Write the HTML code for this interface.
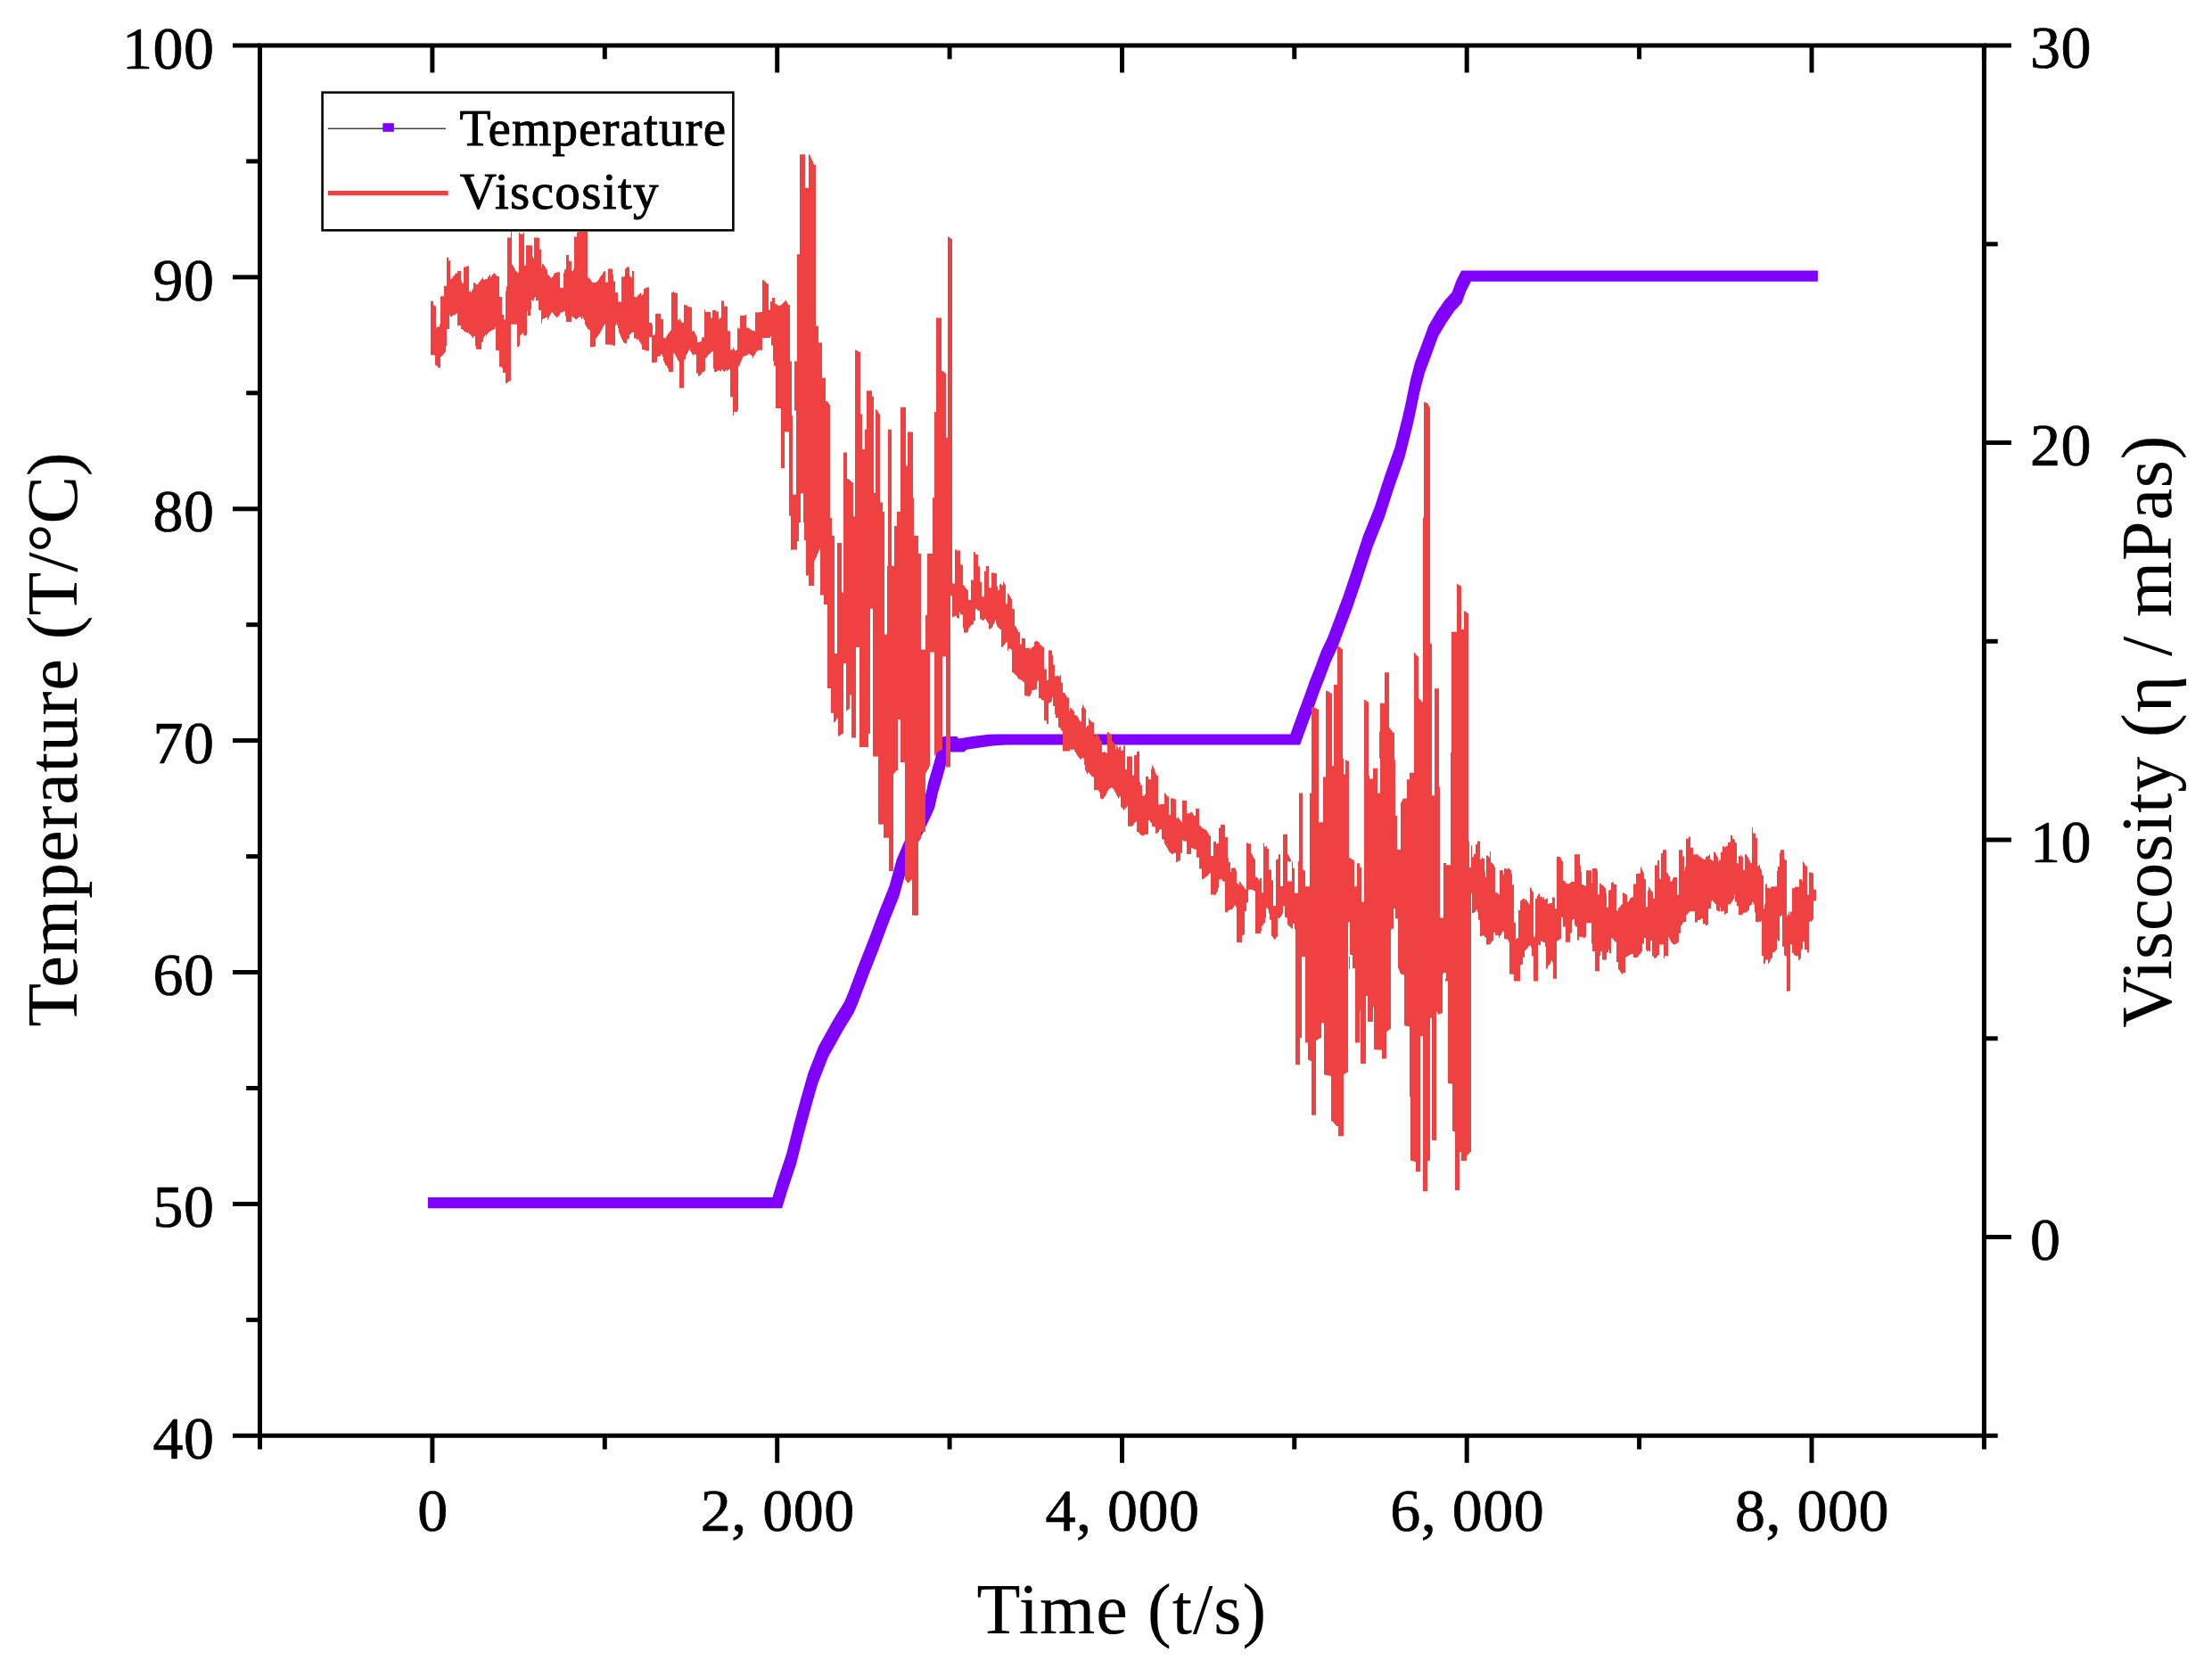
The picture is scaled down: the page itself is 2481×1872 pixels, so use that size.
<!DOCTYPE html>
<html lang="en"><head><meta charset="utf-8"><title>Temperature and Viscosity vs Time</title>
<style>html,body{margin:0;padding:0;background:#fff;}body{width:2481px;height:1872px;overflow:hidden;}svg{display:block;}text{font-family:"Liberation Serif","Times New Roman",serif;fill:#000;}text{stroke:#000;stroke-width:0.7px;}.tk{font-size:68px;letter-spacing:0.5px;}.ti{font-size:80px;stroke-width:0.15px;}.lg{font-size:57px;stroke-width:0.9px;}</style></head><body>
<svg width="2481" height="1872" viewBox="0 0 2481 1872">
<rect x="0" y="0" width="2481" height="1872" fill="#ffffff"/>
<path fill="#8000ff" stroke="none" fill-rule="nonzero" d="M479.9,1343.1L877.2,1343.1L877.2,1355.3L479.9,1355.3ZM866.4,1343.1L872.3,1323.5L883.1,1323.5L883.1,1335.7L877.2,1355.3L866.4,1355.3ZM872.3,1323.5L882.3,1293.6L893.1,1293.6L893.1,1305.8L883.1,1335.7L872.3,1335.7ZM882.3,1293.6L889.8,1263.6L900.6,1263.6L900.6,1275.8L893.1,1305.8L882.3,1305.8ZM889.8,1263.6L897.8,1233.7L908.6,1233.7L908.6,1245.9L900.6,1275.8L889.8,1275.8ZM897.8,1233.7L906.3,1203.7L917.1,1203.7L917.1,1215.9L908.6,1245.9L897.8,1245.9ZM906.3,1203.7L918.0,1173.8L928.8,1173.8L928.8,1186.0L917.1,1215.9L906.3,1215.9ZM918.0,1173.8L934.7,1143.8L945.5,1143.8L945.5,1156.0L928.8,1186.0L918.0,1186.0ZM934.7,1143.8L946.9,1123.9L957.7,1123.9L957.7,1136.1L945.5,1156.0L934.7,1156.0ZM946.9,1123.9L951.2,1113.9L962.0,1113.9L962.0,1126.1L957.7,1136.1L946.9,1136.1ZM951.2,1113.9L962.6,1083.6L973.4,1083.6L973.4,1095.8L962.0,1126.1L951.2,1126.1ZM962.6,1083.6L974.3,1053.7L985.1,1053.7L985.1,1065.9L973.4,1095.8L962.6,1095.8ZM974.3,1053.7L985.5,1023.7L996.3,1023.7L996.3,1035.9L985.1,1065.9L974.3,1065.9ZM985.5,1023.7L997.5,993.8L1008.3,993.8L1008.3,1006.0L996.3,1035.9L985.5,1035.9ZM997.5,993.8L1005.8,963.8L1016.6,963.8L1016.6,976.0L1008.3,1006.0L997.5,1006.0ZM1005.8,963.8L1018.6,933.9L1029.4,933.9L1029.4,946.1L1016.6,976.0L1005.8,976.0ZM1018.6,933.9L1033.1,903.9L1043.9,903.9L1043.9,916.1L1029.4,946.1L1018.6,946.1ZM1033.1,903.9L1037.5,893.9L1048.3,893.9L1048.3,906.1L1043.9,916.1L1033.1,916.1ZM1037.5,893.9L1041.4,876.2L1052.2,876.2L1052.2,888.4L1048.3,906.1L1037.5,906.1ZM1041.4,876.2L1045.4,863.0L1056.2,863.0L1056.2,875.2L1052.2,888.4L1041.4,888.4ZM1045.4,863.0L1049.1,849.8L1059.9,849.8L1059.9,862.0L1056.2,875.2L1045.4,875.2ZM1049.1,849.8L1052.1,836.6L1062.9,836.6L1062.9,848.8L1059.9,862.0L1049.1,862.0ZM1052.1,836.6L1055.6,827.9L1066.4,827.9L1066.4,840.1L1062.9,848.8L1052.1,848.8ZM1055.6,827.9L1058.3,825.9L1069.1,825.9L1069.1,838.1L1066.4,840.1L1055.6,840.1ZM1058.3,825.9L1073.4,825.9L1073.4,838.1L1058.3,838.1ZM1062.6,825.9L1073.4,825.9L1076.9,831.2L1076.9,843.4L1066.1,843.4L1062.6,838.1ZM1066.1,831.2L1081.1,831.2L1081.1,843.4L1066.1,843.4ZM1070.3,831.2L1073.6,828.5L1084.4,828.5L1084.4,840.7L1081.1,843.4L1070.3,843.4ZM1073.6,828.5L1078.6,827.9L1089.4,827.9L1089.4,840.1L1084.4,840.7L1073.6,840.7ZM1078.6,827.9L1088.6,826.2L1099.4,826.2L1099.4,838.4L1089.4,840.1L1078.6,840.1ZM1088.6,826.2L1098.6,824.9L1109.4,824.9L1109.4,837.1L1099.4,838.4L1088.6,838.4ZM1098.6,824.9L1108.6,823.7L1119.4,823.7L1119.4,835.9L1109.4,837.1L1098.6,837.1ZM1108.6,823.7L1119.6,823.4L1130.4,823.4L1130.4,835.6L1119.4,835.9L1108.6,835.9ZM1119.6,823.4L1458.1,823.4L1458.1,835.6L1119.6,835.6ZM1447.3,823.4L1456.6,797.8L1467.4,797.8L1467.4,810.0L1458.1,835.6L1447.3,835.6ZM1456.6,797.8L1462.9,781.0L1473.7,781.0L1473.7,793.2L1467.4,810.0L1456.6,810.0ZM1462.9,781.0L1468.8,764.2L1479.6,764.2L1479.6,776.4L1473.7,793.2L1462.9,793.2ZM1468.8,764.2L1475.4,747.5L1486.2,747.5L1486.2,759.7L1479.6,776.4L1468.8,776.4ZM1475.4,747.5L1481.6,730.7L1492.4,730.7L1492.4,742.9L1486.2,759.7L1475.4,759.7ZM1481.6,730.7L1489.5,713.9L1500.3,713.9L1500.3,726.1L1492.4,742.9L1481.6,742.9ZM1489.5,713.9L1506.4,668.9L1517.2,668.9L1517.2,681.1L1500.3,726.1L1489.5,726.1ZM1506.4,668.9L1517.7,635.3L1528.5,635.3L1528.5,647.5L1517.2,681.1L1506.4,681.1ZM1517.7,635.3L1528.6,601.8L1539.4,601.8L1539.4,614.0L1528.5,647.5L1517.7,647.5ZM1528.6,601.8L1542.0,568.2L1552.8,568.2L1552.8,580.4L1539.4,614.0L1528.6,614.0ZM1542.0,568.2L1552.9,534.6L1563.7,534.6L1563.7,546.8L1552.8,580.4L1542.0,580.4ZM1552.9,534.6L1564.7,501.0L1575.5,501.0L1575.5,513.2L1563.7,546.8L1552.9,546.8ZM1564.7,501.0L1573.1,467.5L1583.9,467.5L1583.9,479.7L1575.5,513.2L1564.7,513.2ZM1573.1,467.5L1576.2,453.9L1587.0,453.9L1587.0,466.1L1583.9,479.7L1573.1,479.7ZM1576.2,453.9L1581.8,426.5L1592.6,426.5L1592.6,438.7L1587.0,466.1L1576.2,466.1ZM1581.8,426.5L1587.2,406.1L1598.0,406.1L1598.0,418.3L1592.6,438.7L1581.8,438.7ZM1587.2,406.1L1594.8,385.8L1605.6,385.8L1605.6,398.0L1598.0,418.3L1587.2,418.3ZM1594.8,385.8L1602.2,365.4L1613.0,365.4L1613.0,377.6L1605.6,398.0L1594.8,398.0ZM1602.2,365.4L1611.3,350.1L1622.1,350.1L1622.1,362.3L1613.0,377.6L1602.2,377.6ZM1611.3,350.1L1620.3,336.9L1631.1,336.9L1631.1,349.1L1622.1,362.3L1611.3,362.3ZM1620.3,336.9L1628.7,327.7L1639.5,327.7L1639.5,339.9L1631.1,349.1L1620.3,349.1ZM1628.7,327.7L1633.5,314.5L1644.3,314.5L1644.3,326.7L1639.5,339.9L1628.7,339.9ZM1633.5,314.5L1639.1,303.5L1649.9,303.5L1649.9,315.7L1644.3,326.7L1633.5,326.7ZM1639.1,303.5L2038.9,303.5L2038.9,315.7L1639.1,315.7Z"/>
<path fill="#ef4141" stroke="none" d="M483,337.7h1v60.6h-1zM484,337.7h1v60.6h-1zM485,337.7h1v60.6h-1zM486,342.6h1v55.7h-1zM487,342.6h1v55.7h-1zM488,343.6h1v65.7h-1zM489,368.3h1v42.3h-1zM490,366.5h1v44.0h-1zM491,366.5h1v46.1h-1zM492,366.5h1v46.1h-1zM493,363.8h1v48.8h-1zM494,332.2h1v67.8h-1zM495,332.2h1v67.6h-1zM496,332.2h1v66.4h-1zM497,332.2h1v65.2h-1zM498,320.4h1v75.7h-1zM499,320.8h1v74.2h-1zM500,320.8h1v67.4h-1zM501,288.7h1v80.2h-1zM502,288.7h1v80.2h-1zM503,293.0h1v75.9h-1zM504,292.1h1v61.1h-1zM505,313.1h1v42.2h-1zM506,312.7h1v42.3h-1zM507,311.4h1v42.8h-1zM508,310.1h1v43.2h-1zM509,308.9h1v44.8h-1zM510,307.6h1v45.3h-1zM511,306.3h1v45.7h-1zM512,306.4h1v45.2h-1zM513,303.7h1v61.5h-1zM514,304.0h1v61.2h-1zM515,304.1h1v61.1h-1zM516,304.1h1v61.1h-1zM517,315.0h1v54.2h-1zM518,317.4h1v51.8h-1zM519,317.5h1v52.6h-1zM520,299.4h1v71.8h-1zM521,299.5h1v73.0h-1zM522,299.5h1v72.7h-1zM523,298.4h1v74.9h-1zM524,298.4h1v74.9h-1zM525,298.4h1v74.9h-1zM526,327.3h1v47.4h-1zM527,326.2h1v49.1h-1zM528,327.8h1v48.8h-1zM529,325.9h1v51.8h-1zM530,324.0h1v54.9h-1zM531,317.0h1v60.0h-1zM532,317.6h1v59.4h-1zM533,318.3h1v69.9h-1zM534,318.9h1v72.9h-1zM535,319.5h1v72.3h-1zM536,317.9h1v73.9h-1zM537,316.6h1v75.2h-1zM538,315.3h1v76.6h-1zM539,313.9h1v77.9h-1zM540,312.6h1v71.1h-1zM541,311.4h1v72.2h-1zM542,313.7h1v65.0h-1zM543,313.5h1v63.5h-1zM544,313.3h1v62.1h-1zM545,313.1h1v63.6h-1zM546,312.9h1v62.1h-1zM547,310.5h1v62.8h-1zM548,309.4h1v63.1h-1zM549,307.9h1v64.0h-1zM550,310.9h1v60.3h-1zM551,309.5h1v61.2h-1zM552,308.1h1v62.0h-1zM553,306.7h1v62.9h-1zM554,306.4h1v62.9h-1zM555,307.6h1v59.1h-1zM556,308.6h1v84.2h-1zM557,309.9h1v83.0h-1zM558,310.1h1v82.8h-1zM559,310.1h1v82.8h-1zM560,333.1h1v78.5h-1zM561,333.1h1v78.5h-1zM562,333.1h1v78.5h-1zM563,353.0h1v60.1h-1zM564,353.0h1v65.1h-1zM565,358.6h1v59.4h-1zM566,358.6h1v59.4h-1zM567,326.6h1v103.2h-1zM568,321.3h1v108.5h-1zM569,266.6h1v162.2h-1zM570,266.6h1v161.3h-1zM571,266.6h1v160.6h-1zM572,266.6h1v160.6h-1zM573,259.8h1v104.0h-1zM574,296.9h1v66.9h-1zM575,298.1h1v65.7h-1zM576,300.1h1v63.7h-1zM577,302.1h1v61.7h-1zM578,304.1h1v59.7h-1zM579,304.8h1v59.0h-1zM580,305.5h1v83.7h-1zM581,305.9h1v82.9h-1zM582,260.7h1v127.1h-1zM583,262.6h1v113.7h-1zM584,262.6h1v112.8h-1zM585,262.6h1v111.9h-1zM586,262.6h1v111.0h-1zM587,260.8h1v114.6h-1zM588,297.8h1v78.9h-1zM589,297.8h1v78.9h-1zM590,275.3h1v100.1h-1zM591,275.2h1v73.8h-1zM592,275.2h1v78.7h-1zM593,275.2h1v78.7h-1zM594,275.2h1v78.7h-1zM595,275.2h1v71.8h-1zM596,275.2h1v61.1h-1zM597,287.9h1v49.5h-1zM598,290.0h1v47.3h-1zM599,266.5h1v67.7h-1zM600,266.5h1v66.8h-1zM601,266.5h1v70.9h-1zM602,266.5h1v70.5h-1zM603,266.5h1v70.5h-1zM604,266.9h1v80.7h-1zM605,279.7h1v68.6h-1zM606,279.7h1v68.6h-1zM607,300.1h1v62.7h-1zM608,296.0h1v61.9h-1zM609,296.4h1v61.3h-1zM610,298.0h1v59.1h-1zM611,299.6h1v56.9h-1zM612,301.2h1v54.7h-1zM613,302.8h1v52.6h-1zM614,307.7h1v50.9h-1zM615,308.9h1v47.5h-1zM616,310.1h1v44.1h-1zM617,311.2h1v40.7h-1zM618,311.8h1v38.8h-1zM619,311.0h1v39.5h-1zM620,309.3h1v42.3h-1zM621,307.6h1v45.2h-1zM622,306.0h1v48.0h-1zM623,306.1h1v48.9h-1zM624,305.4h1v50.9h-1zM625,305.3h1v50.3h-1zM626,305.2h1v49.4h-1zM627,305.2h1v48.5h-1zM628,322.8h1v28.5h-1zM629,322.7h1v27.6h-1zM630,322.7h1v27.4h-1zM631,322.7h1v27.7h-1zM632,305.9h1v43.1h-1zM633,302.3h1v47.1h-1zM634,302.3h1v52.4h-1zM635,286.1h1v75.0h-1zM636,286.1h1v75.0h-1zM637,286.1h1v75.0h-1zM638,292.9h1v68.2h-1zM639,292.9h1v68.2h-1zM640,292.9h1v68.2h-1zM641,303.8h1v51.0h-1zM642,303.9h1v51.5h-1zM643,301.6h1v54.5h-1zM644,265.6h1v91.4h-1zM645,265.6h1v92.1h-1zM646,265.6h1v92.6h-1zM647,260.5h1v96.9h-1zM648,260.3h1v96.3h-1zM649,260.1h1v95.7h-1zM650,259.9h1v95.1h-1zM651,259.8h1v96.3h-1zM652,259.8h1v98.3h-1zM653,259.8h1v95.3h-1zM654,259.8h1v97.2h-1zM655,259.8h1v99.1h-1zM656,259.8h1v104.2h-1zM657,259.8h1v106.2h-1zM658,259.8h1v107.6h-1zM659,311.4h1v57.7h-1zM660,311.4h1v58.3h-1zM661,312.5h1v57.5h-1zM662,314.0h1v75.2h-1zM663,315.5h1v73.7h-1zM664,316.8h1v72.3h-1zM665,316.8h1v72.3h-1zM666,316.8h1v72.3h-1zM667,316.8h1v71.6h-1zM668,316.8h1v62.6h-1zM669,315.7h1v62.8h-1zM670,315.2h1v61.7h-1zM671,313.5h1v61.9h-1zM672,311.7h1v62.7h-1zM673,309.9h1v62.8h-1zM674,308.9h1v61.8h-1zM675,307.9h1v60.9h-1zM676,305.6h1v61.1h-1zM677,304.6h1v60.1h-1zM678,304.1h1v59.7h-1zM679,316.8h1v69.6h-1zM680,316.8h1v69.6h-1zM681,316.8h1v69.6h-1zM682,301.4h1v85.0h-1zM683,301.4h1v85.0h-1zM684,301.4h1v85.2h-1zM685,301.4h1v85.9h-1zM686,301.4h1v85.1h-1zM687,307.8h1v79.6h-1zM688,315.5h1v72.2h-1zM689,315.5h1v72.2h-1zM690,328.0h1v36.9h-1zM691,328.0h1v34.6h-1zM692,328.2h1v36.6h-1zM693,338.5h1v29.7h-1zM694,338.5h1v34.6h-1zM695,338.5h1v37.0h-1zM696,338.5h1v39.2h-1zM697,310.2h1v69.7h-1zM698,310.4h1v71.7h-1zM699,310.6h1v73.7h-1zM700,309.8h1v74.9h-1zM701,301.4h1v83.6h-1zM702,300.4h1v84.8h-1zM703,299.4h1v81.3h-1zM704,299.1h1v81.3h-1zM705,300.3h1v79.0h-1zM706,309.4h1v65.8h-1zM707,310.4h1v63.8h-1zM708,311.3h1v61.9h-1zM709,304.1h1v68.7h-1zM710,304.1h1v68.5h-1zM711,333.1h1v46.5h-1zM712,333.1h1v46.3h-1zM713,333.8h1v45.9h-1zM714,332.7h1v48.7h-1zM715,331.6h1v48.5h-1zM716,330.6h1v51.1h-1zM717,329.5h1v53.8h-1zM718,328.4h1v56.4h-1zM719,331.4h1v55.1h-1zM720,330.5h1v61.4h-1zM721,330.1h1v62.1h-1zM722,323.9h1v68.6h-1zM723,323.4h1v69.4h-1zM724,322.9h1v70.3h-1zM725,322.4h1v71.1h-1zM726,322.2h1v71.4h-1zM727,322.2h1v71.4h-1zM728,361.9h1v16.4h-1zM729,361.9h1v16.4h-1zM730,361.9h1v16.4h-1zM731,364.5h1v42.0h-1zM732,376.0h1v30.7h-1zM733,376.0h1v30.7h-1zM734,374.4h1v32.3h-1zM735,351.9h1v54.4h-1zM736,351.9h1v54.4h-1zM737,351.6h1v48.4h-1zM738,351.7h1v48.1h-1zM739,351.7h1v47.9h-1zM740,351.7h1v47.7h-1zM741,358.0h1v39.2h-1zM742,358.0h1v39.8h-1zM743,358.1h1v42.0h-1zM744,379.1h1v25.6h-1zM745,379.2h1v27.9h-1zM746,379.3h1v30.2h-1zM747,377.6h1v32.2h-1zM748,375.7h1v36.1h-1zM749,373.8h1v40.0h-1zM750,373.5h1v43.7h-1zM751,371.6h1v45.6h-1zM752,370.5h1v46.7h-1zM753,328.0h1v89.1h-1zM754,328.0h1v89.1h-1zM755,326.8h1v69.6h-1zM756,328.2h1v68.2h-1zM757,328.4h1v69.8h-1zM758,328.5h1v71.6h-1zM759,328.7h1v73.5h-1zM760,358.8h1v45.4h-1zM761,359.5h1v45.9h-1zM762,357.5h1v77.7h-1zM763,359.5h1v75.7h-1zM764,361.5h1v73.7h-1zM765,362.0h1v73.2h-1zM766,362.0h1v73.2h-1zM767,342.1h1v61.5h-1zM768,342.1h1v61.2h-1zM769,342.3h1v56.7h-1zM770,342.5h1v54.6h-1zM771,344.0h1v51.2h-1zM772,344.1h1v49.2h-1zM773,344.2h1v47.2h-1zM774,344.6h1v49.3h-1zM775,344.6h1v50.9h-1zM776,371.8h1v25.2h-1zM777,371.0h1v27.6h-1zM778,371.4h1v26.0h-1zM779,373.4h1v24.2h-1zM780,375.4h1v22.4h-1zM781,377.4h1v41.2h-1zM782,383.5h1v35.2h-1zM783,383.9h1v38.2h-1zM784,383.5h1v37.9h-1zM785,383.2h1v37.6h-1zM786,382.8h1v37.3h-1zM787,378.5h1v39.2h-1zM788,378.3h1v38.9h-1zM789,378.3h1v38.9h-1zM790,347.5h1v68.3h-1zM791,349.9h1v51.3h-1zM792,349.9h1v51.3h-1zM793,349.9h1v49.6h-1zM794,349.8h1v48.5h-1zM795,349.8h1v47.1h-1zM796,349.9h1v46.5h-1zM797,356.7h1v38.6h-1zM798,356.7h1v37.5h-1zM799,347.9h1v46.0h-1zM800,348.0h1v65.6h-1zM801,348.0h1v69.2h-1zM802,348.0h1v69.2h-1zM803,349.4h1v67.6h-1zM804,349.4h1v66.5h-1zM805,349.4h1v66.3h-1zM806,358.2h1v57.4h-1zM807,356.6h1v59.1h-1zM808,356.6h1v60.1h-1zM809,337.6h1v76.6h-1zM810,337.6h1v77.5h-1zM811,337.6h1v78.5h-1zM812,343.5h1v73.5h-1zM813,343.4h1v72.5h-1zM814,343.3h1v71.1h-1zM815,344.0h1v72.6h-1zM816,371.3h1v43.9h-1zM817,371.2h1v42.9h-1zM818,371.2h1v43.3h-1zM819,392.3h1v52.9h-1zM820,392.3h1v52.9h-1zM821,392.3h1v52.9h-1zM822,389.8h1v76.2h-1zM823,391.8h1v70.0h-1zM824,393.6h1v68.3h-1zM825,392.7h1v69.2h-1zM826,392.7h1v69.2h-1zM827,367.4h1v93.1h-1zM828,368.5h1v42.4h-1zM829,368.4h1v41.1h-1zM830,354.3h1v52.9h-1zM831,354.0h1v50.7h-1zM832,354.0h1v48.4h-1zM833,353.9h1v46.1h-1zM834,353.9h1v45.7h-1zM835,353.9h1v45.4h-1zM836,353.0h1v46.0h-1zM837,367.4h1v31.2h-1zM838,367.4h1v30.9h-1zM839,367.8h1v28.7h-1zM840,368.5h1v28.7h-1zM841,369.2h1v28.6h-1zM842,369.9h1v28.6h-1zM843,370.6h1v28.6h-1zM844,371.1h1v30.3h-1zM845,371.1h1v28.5h-1zM846,371.6h1v26.3h-1zM847,350.2h1v45.7h-1zM848,350.2h1v44.0h-1zM849,350.5h1v43.7h-1zM850,350.7h1v42.0h-1zM851,349.9h1v42.8h-1zM852,349.9h1v42.8h-1zM853,349.9h1v42.8h-1zM854,349.9h1v42.8h-1zM855,314.3h1v64.6h-1zM856,314.3h1v64.6h-1zM857,315.2h1v63.7h-1zM858,316.2h1v62.7h-1zM859,317.2h1v61.7h-1zM860,318.2h1v60.7h-1zM861,318.2h1v60.7h-1zM862,347.5h1v31.4h-1zM863,347.5h1v31.4h-1zM864,337.8h1v39.5h-1zM865,338.7h1v48.8h-1zM866,334.1h1v53.5h-1zM867,334.1h1v70.8h-1zM868,334.1h1v76.5h-1zM869,340.6h1v69.9h-1zM870,341.1h1v116.9h-1zM871,341.8h1v116.2h-1zM872,342.5h1v115.5h-1zM873,343.1h1v114.9h-1zM874,342.9h1v115.1h-1zM875,342.4h1v115.6h-1zM876,341.8h1v183.4h-1zM877,340.8h1v184.4h-1zM878,339.8h1v185.4h-1zM879,338.8h1v186.4h-1zM880,337.8h1v146.5h-1zM881,336.8h1v147.5h-1zM882,338.4h1v146.0h-1zM883,340.4h1v144.0h-1zM884,342.0h1v142.4h-1zM885,342.0h1v236.4h-1zM886,405.3h1v173.1h-1zM887,405.3h1v211.4h-1zM888,465.9h1v150.8h-1zM889,554.7h1v61.9h-1zM890,554.7h1v61.9h-1zM891,405.3h1v55.1h-1zM891,554.7h1v61.9h-1zM892,405.3h1v55.1h-1zM892,554.7h1v61.9h-1zM893,405.3h1v211.4h-1zM894,285.3h1v321.8h-1zM895,285.3h1v321.8h-1zM896,285.3h1v300.7h-1zM897,173.2h1v412.8h-1zM898,173.2h1v380.2h-1zM899,173.2h1v380.2h-1zM900,173.2h1v380.2h-1zM901,173.2h1v412.8h-1zM902,173.2h1v432.9h-1zM903,210.7h1v395.4h-1zM904,210.7h1v434.7h-1zM905,210.7h1v434.7h-1zM906,210.7h1v434.7h-1zM907,173.2h1v483.7h-1zM908,174.3h1v482.7h-1zM909,176.5h1v480.4h-1zM910,178.8h1v478.2h-1zM911,181.0h1v475.9h-1zM912,183.3h1v473.7h-1zM913,185.1h1v444.1h-1zM914,185.1h1v442.2h-1zM915,365.7h1v259.2h-1zM916,365.7h1v256.9h-1zM917,365.7h1v254.5h-1zM918,384.2h1v233.7h-1zM919,384.2h1v231.4h-1zM920,384.2h1v283.3h-1zM921,384.2h1v283.3h-1zM922,423.7h1v243.8h-1zM923,423.7h1v243.8h-1zM924,423.7h1v254.3h-1zM925,423.7h1v254.3h-1zM926,450.1h1v227.9h-1zM927,450.1h1v227.9h-1zM928,451.1h1v320.8h-1zM929,452.6h1v319.3h-1zM930,454.0h1v317.9h-1zM931,581.0h1v190.9h-1zM932,581.0h1v218.7h-1zM933,601.0h1v198.7h-1zM934,601.0h1v198.7h-1zM935,601.0h1v209.3h-1zM936,733.0h1v76.7h-1zM937,733.0h1v75.0h-1zM938,733.0h1v73.3h-1zM939,609.0h1v196.5h-1zM940,609.0h1v216.6h-1zM941,609.0h1v216.5h-1zM942,609.0h1v215.7h-1zM943,609.0h1v215.0h-1zM944,664.6h1v158.6h-1zM945,664.6h1v158.1h-1zM946,507.6h1v236.6h-1zM947,507.6h1v236.6h-1zM948,507.6h1v236.6h-1zM949,507.6h1v289.8h-1zM950,537.1h1v259.4h-1zM951,537.1h1v258.6h-1zM952,538.1h1v256.9h-1zM953,539.1h1v240.5h-1zM954,540.1h1v239.5h-1zM955,541.1h1v286.5h-1zM956,541.1h1v286.5h-1zM957,579.3h1v248.2h-1zM958,579.3h1v248.2h-1zM959,392.6h1v434.9h-1zM960,392.8h1v333.2h-1zM961,393.4h1v332.5h-1zM962,394.1h1v331.8h-1zM963,394.7h1v331.2h-1zM964,394.7h1v443.4h-1zM965,464.6h1v373.5h-1zM966,464.6h1v373.5h-1zM967,504.1h1v333.9h-1zM968,504.1h1v333.9h-1zM969,504.1h1v333.9h-1zM970,481.7h1v356.3h-1zM971,481.7h1v356.3h-1zM972,438.2h1v399.8h-1zM973,438.2h1v399.8h-1zM974,438.2h1v384.5h-1zM975,438.2h1v384.5h-1zM976,438.2h1v244.6h-1zM977,438.2h1v244.6h-1zM978,444.8h1v238.0h-1zM979,444.8h1v403.8h-1zM980,552.9h1v295.7h-1zM981,552.9h1v295.7h-1zM982,459.3h1v389.3h-1zM983,459.9h1v388.8h-1zM984,461.5h1v387.1h-1zM985,463.2h1v461.4h-1zM986,464.6h1v460.0h-1zM987,563.5h1v361.2h-1zM988,563.5h1v361.2h-1zM989,563.5h1v361.2h-1zM990,574.0h1v350.6h-1zM991,574.0h1v365.8h-1zM992,711.4h1v228.4h-1zM993,711.4h1v228.4h-1zM994,711.4h1v228.4h-1zM995,634.7h1v305.1h-1zM996,481.7h1v458.1h-1zM997,481.7h1v495.3h-1zM998,481.7h1v495.3h-1zM999,481.7h1v495.3h-1zM1000,634.7h1v342.3h-1zM1001,634.7h1v342.3h-1zM1002,634.7h1v233.1h-1zM1003,589.9h1v276.8h-1zM1004,589.9h1v275.6h-1zM1005,589.9h1v274.4h-1zM1006,574.0h1v290.0h-1zM1007,574.0h1v233.0h-1zM1008,574.0h1v233.0h-1zM1009,574.0h1v233.0h-1zM1010,456.7h1v398.3h-1zM1011,456.7h1v398.3h-1zM1012,456.7h1v398.3h-1zM1013,456.7h1v398.3h-1zM1014,456.7h1v398.3h-1zM1015,456.7h1v529.7h-1zM1016,522.6h1v465.4h-1zM1017,522.6h1v467.1h-1zM1018,484.4h1v506.1h-1zM1019,484.4h1v505.1h-1zM1020,484.4h1v504.1h-1zM1021,484.4h1v503.1h-1zM1022,484.4h1v502.3h-1zM1023,484.4h1v542.3h-1zM1024,558.2h1v468.4h-1zM1025,601.0h1v425.7h-1zM1026,601.0h1v425.7h-1zM1027,601.0h1v425.7h-1zM1028,601.0h1v425.7h-1zM1029,601.0h1v425.7h-1zM1030,621.0h1v320.2h-1zM1031,621.0h1v320.2h-1zM1032,621.0h1v320.2h-1zM1033,728.7h1v204.2h-1zM1034,728.7h1v204.2h-1zM1035,728.7h1v204.2h-1zM1036,728.7h1v204.2h-1zM1037,728.7h1v204.2h-1zM1038,690.0h1v176.7h-1zM1039,690.0h1v175.5h-1zM1040,621.0h1v242.5h-1zM1041,621.0h1v240.5h-1zM1042,621.0h1v238.5h-1zM1043,621.0h1v110.5h-1zM1044,621.0h1v110.5h-1zM1045,621.0h1v110.5h-1zM1046,558.2h1v173.3h-1zM1047,558.2h1v173.3h-1zM1048,462.0h1v385.5h-1zM1049,462.0h1v384.5h-1zM1050,356.5h1v487.7h-1zM1051,356.5h1v487.1h-1zM1052,356.5h1v486.5h-1zM1053,356.5h1v486.0h-1zM1054,356.5h1v485.4h-1zM1055,356.5h1v484.8h-1zM1056,415.8h1v425.0h-1zM1057,416.2h1v320.4h-1zM1058,416.9h1v319.6h-1zM1059,417.7h1v318.9h-1zM1060,418.4h1v318.2h-1zM1061,491.0h1v369.6h-1zM1062,491.0h1v369.6h-1zM1063,265.5h1v595.1h-1zM1064,266.1h1v594.5h-1zM1065,266.7h1v593.9h-1zM1066,267.4h1v400.9h-1zM1067,268.1h1v400.2h-1zM1068,653.9h1v38.6h-1zM1069,654.9h1v36.7h-1zM1070,654.9h1v36.7h-1zM1071,616.4h1v74.3h-1zM1072,616.4h1v74.3h-1zM1073,617.5h1v75.4h-1zM1074,617.5h1v75.7h-1zM1075,617.5h1v76.2h-1zM1076,617.5h1v69.6h-1zM1077,633.5h1v55.7h-1zM1078,633.5h1v55.9h-1zM1079,633.5h1v55.9h-1zM1080,656.4h1v48.1h-1zM1081,656.5h1v53.1h-1zM1082,658.5h1v51.2h-1zM1083,659.9h1v49.8h-1zM1084,661.3h1v48.3h-1zM1085,662.0h1v46.7h-1zM1086,673.1h1v32.4h-1zM1087,673.0h1v30.5h-1zM1088,673.0h1v29.6h-1zM1089,650.4h1v50.7h-1zM1090,650.4h1v50.1h-1zM1091,650.4h1v50.1h-1zM1092,619.0h1v77.2h-1zM1093,619.2h1v77.1h-1zM1094,621.7h1v61.3h-1zM1095,622.0h1v61.0h-1zM1096,622.1h1v62.1h-1zM1097,635.2h1v49.7h-1zM1098,635.2h1v49.7h-1zM1099,652.7h1v41.7h-1zM1100,652.7h1v41.7h-1zM1101,669.2h1v26.5h-1zM1102,669.2h1v26.5h-1zM1103,669.2h1v26.5h-1zM1104,640.6h1v53.7h-1zM1105,640.6h1v53.7h-1zM1106,635.0h1v60.9h-1zM1107,635.0h1v62.8h-1zM1108,635.0h1v64.5h-1zM1109,659.3h1v46.5h-1zM1110,659.3h1v46.3h-1zM1111,659.3h1v45.8h-1zM1112,642.2h1v61.6h-1zM1113,642.4h1v59.9h-1zM1114,642.6h1v57.5h-1zM1115,642.9h1v55.1h-1zM1116,643.1h1v52.7h-1zM1117,643.1h1v56.5h-1zM1118,657.5h1v44.6h-1zM1119,662.1h1v41.9h-1zM1120,662.1h1v42.5h-1zM1121,655.7h1v50.1h-1zM1122,654.7h1v51.4h-1zM1123,656.2h1v69.6h-1zM1124,656.2h1v69.6h-1zM1125,652.2h1v72.4h-1zM1126,654.2h1v68.8h-1zM1127,655.7h1v66.0h-1zM1128,677.3h1v43.5h-1zM1129,677.3h1v43.0h-1zM1130,665.6h1v64.5h-1zM1131,666.6h1v60.9h-1zM1132,668.3h1v59.3h-1zM1133,670.0h1v57.7h-1zM1134,671.9h1v56.8h-1zM1135,683.1h1v71.2h-1zM1136,683.1h1v71.4h-1zM1137,683.2h1v72.1h-1zM1138,702.4h1v54.2h-1zM1139,702.4h1v54.9h-1zM1140,705.0h1v53.2h-1zM1141,707.0h1v52.9h-1zM1142,709.0h1v52.6h-1zM1143,709.1h1v52.6h-1zM1144,722.7h1v39.8h-1zM1145,722.2h1v40.6h-1zM1146,715.7h1v47.9h-1zM1147,715.7h1v48.8h-1zM1148,715.8h1v49.5h-1zM1149,716.4h1v63.8h-1zM1150,727.1h1v53.4h-1zM1151,727.1h1v53.4h-1zM1152,727.1h1v53.4h-1zM1153,727.1h1v54.4h-1zM1154,726.8h1v54.3h-1zM1155,728.4h1v51.3h-1zM1156,727.3h1v50.8h-1zM1157,726.3h1v48.2h-1zM1158,725.5h1v48.5h-1zM1159,724.7h1v49.2h-1zM1160,720.1h1v53.3h-1zM1161,719.3h1v54.0h-1zM1162,718.7h1v54.6h-1zM1163,719.2h1v45.6h-1zM1164,719.8h1v43.5h-1zM1165,720.4h1v62.7h-1zM1166,722.9h1v60.3h-1zM1167,723.7h1v59.7h-1zM1168,724.5h1v60.6h-1zM1169,725.3h1v60.1h-1zM1170,725.8h1v59.8h-1zM1171,750.6h1v57.6h-1zM1172,750.6h1v57.6h-1zM1173,750.6h1v57.6h-1zM1174,762.9h1v49.2h-1zM1175,762.9h1v49.2h-1zM1176,729.4h1v59.3h-1zM1177,729.4h1v58.7h-1zM1178,729.4h1v58.0h-1zM1179,729.4h1v57.2h-1zM1180,734.9h1v47.1h-1zM1181,745.6h1v46.3h-1zM1182,745.6h1v46.3h-1zM1183,758.7h1v42.6h-1zM1184,758.3h1v46.6h-1zM1185,758.1h1v46.8h-1zM1186,757.9h1v47.0h-1zM1187,758.6h1v57.1h-1zM1188,758.4h1v57.4h-1zM1189,757.0h1v60.5h-1zM1190,765.5h1v53.7h-1zM1191,765.6h1v54.6h-1zM1192,777.1h1v65.5h-1zM1193,777.1h1v65.5h-1zM1194,778.1h1v64.5h-1zM1195,780.0h1v62.6h-1zM1196,781.4h1v61.2h-1zM1197,782.6h1v60.0h-1zM1198,782.6h1v60.0h-1zM1199,797.6h1v45.0h-1zM1200,794.1h1v46.5h-1zM1201,794.6h1v46.2h-1zM1202,795.6h1v45.7h-1zM1203,796.6h1v43.7h-1zM1204,797.6h1v43.2h-1zM1205,801.9h1v40.5h-1zM1206,802.3h1v41.8h-1zM1207,802.6h1v43.1h-1zM1208,803.5h1v44.0h-1zM1209,805.2h1v43.6h-1zM1210,807.4h1v42.7h-1zM1211,809.1h1v42.3h-1zM1212,809.5h1v42.0h-1zM1213,794.0h1v56.2h-1zM1214,790.7h1v59.6h-1zM1215,792.3h1v58.1h-1zM1216,794.2h1v63.8h-1zM1217,795.3h1v68.6h-1zM1218,816.0h1v50.2h-1zM1219,813.9h1v54.7h-1zM1220,813.9h1v52.4h-1zM1221,805.8h1v61.1h-1zM1222,807.6h1v60.5h-1zM1223,808.6h1v60.8h-1zM1224,809.6h1v61.1h-1zM1225,810.3h1v61.3h-1zM1226,810.3h1v61.3h-1zM1227,826.5h1v59.7h-1zM1228,824.5h1v61.7h-1zM1229,824.3h1v61.9h-1zM1230,824.0h1v62.1h-1zM1231,823.8h1v62.3h-1zM1232,825.5h1v62.1h-1zM1233,828.8h1v60.3h-1zM1234,830.5h1v65.1h-1zM1235,831.6h1v64.8h-1zM1236,843.9h1v52.2h-1zM1237,843.9h1v51.9h-1zM1238,843.1h1v51.4h-1zM1239,843.8h1v49.1h-1zM1240,844.4h1v46.8h-1zM1241,844.4h1v44.7h-1zM1242,821.1h1v66.1h-1zM1243,821.4h1v64.2h-1zM1244,822.4h1v62.4h-1zM1245,823.4h1v60.7h-1zM1246,824.4h1v58.9h-1zM1247,831.0h1v52.8h-1zM1248,832.3h1v52.5h-1zM1249,833.6h1v52.2h-1zM1250,833.8h1v54.0h-1zM1251,840.5h1v49.3h-1zM1252,836.1h1v55.7h-1zM1253,838.1h1v55.7h-1zM1254,840.1h1v55.7h-1zM1255,837.6h1v55.9h-1zM1256,836.9h1v56.5h-1zM1257,841.9h1v63.2h-1zM1258,841.6h1v64.2h-1zM1259,841.8h1v65.7h-1zM1260,836.4h1v72.6h-1zM1261,836.4h1v70.4h-1zM1262,863.2h1v43.5h-1zM1263,862.9h1v42.5h-1zM1264,848.5h1v56.1h-1zM1265,848.5h1v78.2h-1zM1266,848.5h1v78.2h-1zM1267,848.5h1v78.2h-1zM1268,848.5h1v78.2h-1zM1269,848.5h1v78.2h-1zM1270,869.5h1v56.4h-1zM1271,869.4h1v55.3h-1zM1272,847.2h1v76.0h-1zM1273,847.1h1v74.8h-1zM1274,847.1h1v74.1h-1zM1275,843.1h1v89.9h-1zM1276,843.1h1v89.9h-1zM1277,843.1h1v90.7h-1zM1278,877.3h1v57.9h-1zM1279,880.6h1v55.9h-1zM1280,880.7h1v56.2h-1zM1281,892.5h1v44.5h-1zM1282,892.6h1v44.8h-1zM1283,892.6h1v43.7h-1zM1284,891.0h1v45.2h-1zM1285,870.9h1v64.8h-1zM1286,870.9h1v64.8h-1zM1287,870.9h1v64.8h-1zM1288,874.0h1v46.1h-1zM1289,874.0h1v46.2h-1zM1290,874.2h1v47.7h-1zM1291,862.4h1v60.5h-1zM1292,858.4h1v68.4h-1zM1293,860.2h1v66.9h-1zM1294,862.1h1v65.4h-1zM1295,865.6h1v62.0h-1zM1296,867.8h1v67.0h-1zM1297,869.7h1v65.1h-1zM1298,869.7h1v64.3h-1zM1299,902.5h1v30.8h-1zM1300,902.5h1v28.2h-1zM1301,902.4h1v27.8h-1zM1302,901.8h1v28.5h-1zM1303,901.9h1v39.4h-1zM1304,901.9h1v39.4h-1zM1305,901.9h1v40.6h-1zM1306,889.4h1v57.4h-1zM1307,890.6h1v57.7h-1zM1308,892.1h1v57.8h-1zM1309,893.5h1v58.1h-1zM1310,893.5h1v60.1h-1zM1311,914.1h1v41.4h-1zM1312,914.1h1v42.5h-1zM1313,895.6h1v61.6h-1zM1314,895.6h1v62.2h-1zM1315,895.6h1v62.3h-1zM1316,895.6h1v61.2h-1zM1317,896.5h1v60.3h-1zM1318,896.5h1v60.3h-1zM1319,917.2h1v49.7h-1zM1320,918.2h1v48.6h-1zM1321,916.3h1v49.4h-1zM1322,918.3h1v47.1h-1zM1323,919.7h1v45.7h-1zM1324,921.1h1v35.7h-1zM1325,922.2h1v34.6h-1zM1326,898.0h1v44.0h-1zM1327,898.0h1v45.5h-1zM1328,898.0h1v45.5h-1zM1329,898.0h1v45.5h-1zM1330,898.0h1v45.8h-1zM1331,912.2h1v45.9h-1zM1332,912.2h1v45.9h-1zM1333,912.2h1v45.9h-1zM1334,912.2h1v45.9h-1zM1335,910.9h1v47.2h-1zM1336,910.8h1v40.2h-1zM1337,911.6h1v39.6h-1zM1338,913.6h1v38.3h-1zM1339,915.6h1v37.0h-1zM1340,915.0h1v37.7h-1zM1341,906.9h1v45.8h-1zM1342,906.9h1v54.8h-1zM1343,906.9h1v54.8h-1zM1344,906.9h1v54.8h-1zM1345,925.9h1v48.4h-1zM1346,926.4h1v48.0h-1zM1347,927.4h1v47.0h-1zM1348,928.4h1v57.6h-1zM1349,929.4h1v56.6h-1zM1350,929.8h1v55.5h-1zM1351,930.3h1v54.3h-1zM1352,930.8h1v53.0h-1zM1353,931.7h1v51.4h-1zM1354,933.4h1v48.6h-1zM1355,935.2h1v45.9h-1zM1356,936.9h1v42.7h-1zM1357,937.5h1v41.9h-1zM1358,960.0h1v43.6h-1zM1359,960.0h1v43.6h-1zM1360,960.0h1v43.6h-1zM1361,943.8h1v59.7h-1zM1362,943.8h1v60.2h-1zM1363,943.7h1v59.7h-1zM1364,946.5h1v55.1h-1zM1365,946.1h1v53.9h-1zM1366,946.0h1v50.0h-1zM1367,928.5h1v57.9h-1zM1368,928.5h1v57.9h-1zM1369,924.9h1v61.5h-1zM1370,924.9h1v61.5h-1zM1371,924.9h1v63.7h-1zM1372,924.9h1v63.7h-1zM1373,925.4h1v63.3h-1zM1374,939.0h1v84.1h-1zM1375,939.0h1v84.1h-1zM1376,939.0h1v84.4h-1zM1377,962.2h1v58.8h-1zM1378,967.2h1v54.0h-1zM1379,967.1h1v53.1h-1zM1380,977.7h1v42.5h-1zM1381,973.4h1v46.9h-1zM1382,973.4h1v45.7h-1zM1383,973.4h1v44.3h-1zM1384,973.4h1v42.9h-1zM1385,973.4h1v41.5h-1zM1386,976.6h1v40.9h-1zM1387,991.1h1v65.9h-1zM1388,991.3h1v65.7h-1zM1389,992.5h1v64.5h-1zM1390,988.8h1v68.2h-1zM1391,990.0h1v67.0h-1zM1392,991.4h1v65.7h-1zM1393,992.7h1v56.2h-1zM1394,994.0h1v54.9h-1zM1395,995.4h1v52.4h-1zM1396,996.7h1v25.6h-1zM1397,997.7h1v24.6h-1zM1398,945.6h1v66.8h-1zM1399,945.6h1v66.8h-1zM1400,946.2h1v51.5h-1zM1401,946.2h1v51.5h-1zM1402,946.2h1v51.5h-1zM1403,956.9h1v40.8h-1zM1404,958.8h1v38.9h-1zM1405,960.7h1v37.7h-1zM1406,962.6h1v36.4h-1zM1407,964.0h1v35.5h-1zM1408,983.8h1v63.4h-1zM1409,983.8h1v63.4h-1zM1410,984.7h1v62.4h-1zM1411,986.1h1v61.0h-1zM1412,987.5h1v59.6h-1zM1413,985.1h1v62.0h-1zM1414,985.1h1v59.4h-1zM1415,1001.3h1v37.0h-1zM1416,1001.3h1v36.9h-1zM1417,945.6h1v89.9h-1zM1418,949.7h1v85.5h-1zM1419,949.7h1v80.1h-1zM1420,949.1h1v69.4h-1zM1421,951.8h1v66.7h-1zM1422,951.9h1v68.3h-1zM1423,975.3h1v49.2h-1zM1424,975.4h1v56.4h-1zM1425,975.4h1v56.4h-1zM1426,987.3h1v62.5h-1zM1427,987.3h1v63.4h-1zM1428,1015.9h1v36.5h-1zM1429,1015.9h1v37.8h-1zM1430,1015.9h1v37.0h-1zM1431,964.3h1v86.9h-1zM1432,964.3h1v86.5h-1zM1433,962.9h1v66.5h-1zM1434,958.2h1v71.9h-1zM1435,958.2h1v71.2h-1zM1436,994.1h1v34.0h-1zM1437,994.1h1v32.6h-1zM1438,994.1h1v30.7h-1zM1439,935.7h1v80.6h-1zM1440,935.7h1v80.6h-1zM1441,935.7h1v93.1h-1zM1442,935.7h1v93.3h-1zM1443,935.7h1v93.9h-1zM1444,958.2h1v8.2h-1zM1444,988.4h1v48.9h-1zM1445,959.5h1v6.8h-1zM1445,988.4h1v49.8h-1zM1446,961.8h1v4.6h-1zM1446,988.4h1v50.8h-1zM1447,964.0h1v2.3h-1zM1447,988.4h1v51.8h-1zM1448,988.4h1v52.8h-1zM1449,966.2h1v75.3h-1zM1450,973.7h1v62.4h-1zM1451,973.6h1v62.6h-1zM1452,1001.8h1v40.8h-1zM1453,1001.8h1v192.5h-1zM1454,1001.8h1v192.5h-1zM1455,1001.8h1v192.5h-1zM1456,966.0h1v228.3h-1zM1457,889.6h1v304.7h-1zM1458,889.6h1v274.3h-1zM1459,889.6h1v274.3h-1zM1460,889.6h1v183.3h-1zM1461,975.0h1v98.0h-1zM1462,976.5h1v96.5h-1zM1463,976.5h1v96.5h-1zM1464,994.2h1v175.3h-1zM1465,994.2h1v175.3h-1zM1466,994.2h1v175.3h-1zM1467,994.2h1v194.6h-1zM1468,994.2h1v195.0h-1zM1469,889.4h1v300.2h-1zM1470,889.4h1v300.6h-1zM1471,792.9h1v457.9h-1zM1472,792.9h1v457.9h-1zM1473,792.9h1v457.9h-1zM1474,793.4h1v457.4h-1zM1475,794.1h1v456.8h-1zM1476,794.7h1v372.0h-1zM1477,795.3h1v370.9h-1zM1478,795.7h1v370.0h-1zM1479,922.3h1v242.8h-1zM1480,922.3h1v242.2h-1zM1481,922.3h1v241.7h-1zM1482,922.3h1v225.1h-1zM1483,922.3h1v225.1h-1zM1484,871.5h1v276.0h-1zM1485,871.5h1v333.9h-1zM1486,871.5h1v333.9h-1zM1487,775.0h1v430.7h-1zM1488,775.0h1v431.0h-1zM1489,775.3h1v431.0h-1zM1490,776.0h1v430.6h-1zM1491,776.7h1v430.0h-1zM1492,777.4h1v429.3h-1zM1493,777.7h1v480.0h-1zM1494,859.1h1v398.6h-1zM1495,859.1h1v399.7h-1zM1496,768.1h1v491.9h-1zM1497,768.1h1v493.1h-1zM1498,768.1h1v494.2h-1zM1499,768.1h1v495.1h-1zM1500,724.0h1v539.3h-1zM1501,724.7h1v549.6h-1zM1502,725.5h1v548.7h-1zM1503,726.4h1v547.9h-1zM1504,727.2h1v547.1h-1zM1505,728.0h1v546.2h-1zM1506,850.8h1v423.5h-1zM1507,868.6h1v336.4h-1zM1508,868.6h1v335.7h-1zM1509,852.3h1v351.4h-1zM1510,852.9h1v350.1h-1zM1511,853.5h1v349.1h-1zM1512,853.6h1v180.9h-1zM1513,962.0h1v72.4h-1zM1513,1072.8h1v14.0h-1zM1514,962.4h1v108.4h-1zM1515,963.1h1v107.8h-1zM1516,963.8h1v107.1h-1zM1517,964.5h1v121.7h-1zM1518,965.1h1v121.0h-1zM1519,994.2h1v92.0h-1zM1520,994.2h1v175.3h-1zM1521,994.2h1v175.3h-1zM1522,968.3h1v201.2h-1zM1523,968.3h1v201.2h-1zM1524,968.3h1v201.2h-1zM1525,973.1h1v160.6h-1zM1526,973.1h1v219.8h-1zM1527,1011.4h1v181.5h-1zM1528,1011.4h1v181.5h-1zM1529,1011.4h1v181.5h-1zM1530,784.7h1v408.2h-1zM1531,785.4h1v407.5h-1zM1532,786.1h1v331.0h-1zM1533,786.8h1v330.3h-1zM1534,787.4h1v358.7h-1zM1535,870.1h1v276.0h-1zM1536,873.4h1v272.6h-1zM1537,873.4h1v272.6h-1zM1538,873.4h1v272.6h-1zM1539,873.4h1v272.6h-1zM1540,861.8h1v267.7h-1zM1541,861.8h1v315.4h-1zM1542,861.8h1v315.4h-1zM1543,861.8h1v315.5h-1zM1544,861.8h1v315.5h-1zM1545,889.7h1v287.8h-1zM1546,889.7h1v287.8h-1zM1547,820.5h1v29.9h-1zM1547,889.7h1v287.9h-1zM1548,788.8h1v389.0h-1zM1549,788.8h1v389.0h-1zM1550,788.8h1v398.6h-1zM1551,788.8h1v398.6h-1zM1552,788.8h1v398.6h-1zM1553,754.3h1v433.1h-1zM1554,754.3h1v433.1h-1zM1555,754.3h1v402.6h-1zM1556,754.3h1v401.9h-1zM1557,754.3h1v401.2h-1zM1558,816.3h1v338.4h-1zM1559,817.6h1v336.7h-1zM1560,818.9h1v223.7h-1zM1561,820.3h1v221.8h-1zM1562,821.6h1v219.8h-1zM1563,821.9h1v197.2h-1zM1564,852.2h1v166.9h-1zM1565,915.0h1v115.3h-1zM1566,915.0h1v115.3h-1zM1567,953.0h1v77.3h-1zM1568,953.0h1v133.1h-1zM1569,953.0h1v135.6h-1zM1570,953.0h1v138.1h-1zM1571,900.2h1v192.3h-1zM1572,898.3h1v194.5h-1zM1573,896.5h1v196.6h-1zM1574,895.5h1v198.0h-1zM1575,895.5h1v254.7h-1zM1576,895.5h1v255.0h-1zM1577,895.5h1v255.2h-1zM1578,874.2h1v276.7h-1zM1579,874.2h1v277.0h-1zM1580,874.2h1v277.3h-1zM1581,866.8h1v363.4h-1zM1582,866.8h1v435.0h-1zM1583,866.8h1v435.1h-1zM1584,866.8h1v435.4h-1zM1585,866.8h1v435.7h-1zM1586,732.1h1v570.6h-1zM1587,733.3h1v569.8h-1zM1588,734.4h1v579.9h-1zM1589,735.5h1v578.7h-1zM1590,736.4h1v577.9h-1zM1591,783.3h1v531.0h-1zM1592,784.3h1v529.9h-1zM1593,785.6h1v376.3h-1zM1594,786.8h1v375.1h-1zM1595,787.4h1v374.5h-1zM1596,580.6h1v755.7h-1zM1597,451.0h1v885.3h-1zM1598,451.3h1v885.0h-1zM1599,451.7h1v884.6h-1zM1600,452.1h1v884.2h-1zM1601,452.9h1v849.0h-1zM1602,455.0h1v846.8h-1zM1603,456.5h1v845.3h-1zM1604,721.5h1v420.2h-1zM1605,722.3h1v419.5h-1zM1606,892.2h1v386.8h-1zM1607,892.2h1v386.8h-1zM1608,892.2h1v386.8h-1zM1609,772.2h1v506.7h-1zM1610,772.2h1v506.7h-1zM1611,772.2h1v362.5h-1zM1612,772.2h1v364.3h-1zM1613,772.2h1v365.5h-1zM1614,882.5h1v254.9h-1zM1615,1029.0h1v108.1h-1zM1616,1029.6h1v107.2h-1zM1617,1029.6h1v106.9h-1zM1618,1029.6h1v62.7h-1zM1619,968.0h1v123.0h-1zM1620,968.0h1v123.0h-1zM1621,968.0h1v123.0h-1zM1621,1097.7h1v2.9h-1zM1622,970.2h1v130.4h-1zM1623,970.2h1v130.4h-1zM1624,970.2h1v244.8h-1zM1625,970.2h1v244.9h-1zM1626,970.2h1v245.2h-1zM1627,843.9h1v371.7h-1zM1628,708.8h1v507.0h-1zM1629,708.8h1v560.0h-1zM1630,708.8h1v560.2h-1zM1631,708.8h1v560.5h-1zM1632,708.8h1v626.1h-1zM1633,708.8h1v626.1h-1zM1634,655.1h1v679.9h-1zM1635,655.6h1v679.3h-1zM1636,656.2h1v678.7h-1zM1637,656.8h1v635.4h-1zM1638,657.5h1v634.7h-1zM1639,706.1h1v595.8h-1zM1640,706.1h1v595.8h-1zM1641,706.1h1v595.8h-1zM1642,685.4h1v616.5h-1zM1643,686.0h1v615.9h-1zM1644,686.6h1v615.2h-1zM1645,687.3h1v608.9h-1zM1646,688.0h1v607.1h-1zM1647,943.4h1v350.5h-1zM1648,973.0h1v319.7h-1zM1649,972.9h1v319.3h-1zM1650,948.2h1v53.9h-1zM1651,961.2h1v63.1h-1zM1652,961.2h1v63.1h-1zM1653,957.8h1v65.4h-1zM1654,957.8h1v65.2h-1zM1655,947.2h1v74.4h-1zM1656,947.1h1v73.1h-1zM1657,943.4h1v80.0h-1zM1658,943.6h1v88.2h-1zM1659,943.6h1v88.2h-1zM1660,963.8h1v86.2h-1zM1661,963.8h1v86.2h-1zM1662,961.8h1v88.0h-1zM1663,962.6h1v87.0h-1zM1664,963.3h1v86.0h-1zM1665,977.6h1v74.1h-1zM1666,983.7h1v67.2h-1zM1667,959.4h1v100.2h-1zM1668,959.8h1v99.8h-1zM1669,960.8h1v98.8h-1zM1670,961.7h1v97.9h-1zM1671,954.9h1v103.8h-1zM1672,967.6h1v89.6h-1zM1673,967.6h1v88.2h-1zM1674,969.0h1v86.0h-1zM1675,970.5h1v75.5h-1zM1676,972.5h1v73.3h-1zM1677,1001.2h1v47.7h-1zM1678,1001.0h1v48.2h-1zM1679,1001.8h1v47.3h-1zM1680,1002.6h1v46.4h-1zM1681,1003.4h1v48.5h-1zM1682,976.2h1v73.8h-1zM1683,976.2h1v72.4h-1zM1684,976.2h1v70.5h-1zM1685,976.2h1v68.6h-1zM1686,980.8h1v64.0h-1zM1687,973.9h1v79.1h-1zM1688,973.9h1v79.1h-1zM1689,974.4h1v78.9h-1zM1690,975.1h1v78.7h-1zM1691,973.5h1v80.8h-1zM1692,973.9h1v82.8h-1zM1693,975.5h1v117.2h-1zM1694,975.7h1v116.9h-1zM1695,980.3h1v112.3h-1zM1696,992.3h1v100.4h-1zM1697,992.3h1v100.4h-1zM1698,1034.8h1v65.8h-1zM1699,1034.8h1v65.8h-1zM1700,1053.4h1v47.2h-1zM1701,1052.2h1v48.4h-1zM1702,1052.2h1v48.4h-1zM1703,1020.9h1v79.7h-1zM1704,1020.9h1v79.7h-1zM1705,1010.4h1v72.2h-1zM1706,1009.5h1v72.2h-1zM1707,1008.8h1v72.9h-1zM1708,1007.7h1v66.1h-1zM1709,1008.1h1v65.7h-1zM1710,1009.5h1v56.6h-1zM1711,1008.6h1v56.6h-1zM1712,1010.2h1v54.2h-1zM1713,1011.7h1v51.3h-1zM1714,1013.2h1v48.4h-1zM1715,1014.3h1v46.8h-1zM1716,995.2h1v65.4h-1zM1717,996.6h1v65.9h-1zM1718,999.0h1v73.5h-1zM1719,1000.4h1v72.1h-1zM1720,1050.4h1v50.2h-1zM1721,1050.4h1v50.2h-1zM1722,1007.9h1v92.7h-1zM1723,1007.8h1v92.8h-1zM1724,1004.7h1v95.8h-1zM1725,1003.2h1v56.4h-1zM1726,1002.1h1v57.7h-1zM1727,1005.9h1v54.6h-1zM1728,1006.0h1v49.6h-1zM1729,1006.0h1v50.2h-1zM1730,1007.5h1v49.1h-1zM1731,1006.2h1v50.8h-1zM1732,1008.7h1v48.5h-1zM1733,1008.8h1v53.1h-1zM1734,1008.1h1v78.7h-1zM1735,1007.5h1v78.8h-1zM1736,1014.1h1v69.2h-1zM1737,1013.5h1v69.0h-1zM1738,1013.3h1v67.7h-1zM1739,1013.1h1v65.9h-1zM1740,1012.9h1v64.2h-1zM1741,1006.4h1v73.3h-1zM1742,1006.4h1v91.3h-1zM1743,1006.4h1v91.3h-1zM1744,1019.3h1v78.4h-1zM1745,1019.3h1v78.4h-1zM1746,961.1h1v94.3h-1zM1747,961.1h1v94.0h-1zM1748,961.1h1v93.2h-1zM1749,961.1h1v92.5h-1zM1750,962.3h1v91.0h-1zM1751,964.6h1v63.9h-1zM1752,966.1h1v63.3h-1zM1753,987.7h1v51.8h-1zM1754,987.9h1v51.5h-1zM1755,989.2h1v50.3h-1zM1756,990.4h1v66.3h-1zM1757,991.3h1v65.4h-1zM1758,991.3h1v65.4h-1zM1759,991.3h1v65.4h-1zM1760,990.9h1v65.9h-1zM1761,989.9h1v56.8h-1zM1762,989.1h1v57.5h-1zM1763,989.1h1v43.1h-1zM1764,989.1h1v42.0h-1zM1765,989.1h1v42.0h-1zM1766,958.2h1v79.1h-1zM1767,958.2h1v81.2h-1zM1768,958.2h1v81.2h-1zM1769,958.2h1v96.3h-1zM1770,958.2h1v96.3h-1zM1771,958.2h1v92.3h-1zM1772,970.5h1v80.5h-1zM1773,977.7h1v73.2h-1zM1774,992.1h1v59.1h-1zM1775,992.3h1v58.4h-1zM1776,992.9h1v59.6h-1zM1777,993.5h1v58.0h-1zM1778,993.8h1v57.2h-1zM1779,976.2h1v59.0h-1zM1780,976.2h1v59.0h-1zM1781,976.2h1v59.0h-1zM1782,976.2h1v59.0h-1zM1783,976.2h1v59.0h-1zM1784,976.2h1v59.0h-1zM1785,990.6h1v68.0h-1zM1786,974.0h1v93.1h-1zM1787,974.0h1v93.1h-1zM1788,974.0h1v93.1h-1zM1789,974.0h1v115.3h-1zM1790,974.0h1v115.3h-1zM1791,976.4h1v112.9h-1zM1792,1003.2h1v86.4h-1zM1793,1003.2h1v86.4h-1zM1794,990.9h1v80.8h-1zM1795,990.9h1v76.4h-1zM1796,992.6h1v74.6h-1zM1797,993.0h1v83.6h-1zM1798,993.5h1v83.2h-1zM1799,994.9h1v81.8h-1zM1800,996.3h1v80.1h-1zM1801,1001.8h1v74.7h-1zM1802,1017.8h1v50.6h-1zM1803,1017.7h1v50.3h-1zM1804,998.7h1v66.6h-1zM1805,998.5h1v70.7h-1zM1806,997.8h1v71.4h-1zM1807,990.1h1v62.0h-1zM1808,989.5h1v62.9h-1zM1809,989.5h1v64.3h-1zM1810,991.9h1v62.9h-1zM1811,992.0h1v64.3h-1zM1812,992.0h1v64.7h-1zM1813,1021.8h1v57.3h-1zM1814,1021.3h1v57.8h-1zM1815,1018.2h1v69.4h-1zM1816,1017.4h1v70.8h-1zM1817,1016.2h1v73.8h-1zM1818,1014.9h1v76.8h-1zM1819,1014.3h1v78.4h-1zM1820,1001.4h1v89.8h-1zM1821,1001.6h1v89.6h-1zM1822,1002.4h1v88.8h-1zM1823,1003.1h1v70.3h-1zM1824,1003.5h1v69.6h-1zM1825,1011.4h1v61.4h-1zM1826,1011.4h1v60.7h-1zM1827,1010.0h1v61.1h-1zM1828,1007.5h1v63.2h-1zM1829,1007.0h1v63.3h-1zM1830,1006.3h1v63.8h-1zM1831,1006.3h1v63.6h-1zM1832,991.6h1v82.5h-1zM1833,991.6h1v82.3h-1zM1834,991.6h1v82.3h-1zM1835,979.9h1v94.1h-1zM1836,979.9h1v93.8h-1zM1837,979.8h1v92.7h-1zM1838,979.7h1v91.6h-1zM1839,979.6h1v90.5h-1zM1840,972.6h1v96.1h-1zM1841,974.9h1v92.3h-1zM1842,977.1h1v81.4h-1zM1843,978.9h1v79.5h-1zM1844,985.7h1v66.2h-1zM1845,986.3h1v65.7h-1zM1846,1017.3h1v47.9h-1zM1847,1017.3h1v50.0h-1zM1848,999.1h1v67.3h-1zM1849,994.7h1v71.8h-1zM1850,996.4h1v71.0h-1zM1851,998.2h1v56.7h-1zM1852,999.6h1v55.4h-1zM1853,1000.6h1v71.8h-1zM1854,1007.4h1v65.0h-1zM1855,1007.4h1v67.3h-1zM1856,970.5h1v104.2h-1zM1857,970.5h1v103.7h-1zM1858,970.4h1v102.6h-1zM1859,964.9h1v106.7h-1zM1860,964.9h1v106.1h-1zM1861,986.0h1v73.5h-1zM1862,986.0h1v73.6h-1zM1863,956.9h1v102.7h-1zM1864,956.9h1v102.7h-1zM1865,953.2h1v106.4h-1zM1866,953.2h1v121.5h-1zM1867,953.2h1v118.7h-1zM1868,953.2h1v118.7h-1zM1869,979.1h1v93.4h-1zM1870,979.5h1v93.0h-1zM1871,981.9h1v68.8h-1zM1872,983.0h1v69.7h-1zM1873,988.7h1v66.0h-1zM1874,988.8h1v67.9h-1zM1875,987.6h1v70.2h-1zM1876,985.2h1v73.5h-1zM1877,984.1h1v75.5h-1zM1878,984.1h1v75.2h-1zM1879,984.1h1v75.0h-1zM1880,984.1h1v74.5h-1zM1881,1003.5h1v53.8h-1zM1882,1003.5h1v53.2h-1zM1883,953.2h1v93.5h-1zM1884,953.2h1v93.5h-1zM1885,953.2h1v85.5h-1zM1886,953.2h1v83.8h-1zM1887,960.6h1v74.8h-1zM1888,960.5h1v73.7h-1zM1889,976.2h1v58.0h-1zM1890,972.3h1v61.8h-1zM1891,940.4h1v86.1h-1zM1892,940.4h1v85.2h-1zM1893,940.4h1v84.1h-1zM1894,938.6h1v84.6h-1zM1895,938.6h1v83.6h-1zM1896,950.7h1v71.5h-1zM1897,950.7h1v71.5h-1zM1898,950.7h1v71.5h-1zM1899,958.6h1v63.6h-1zM1900,958.5h1v63.7h-1zM1901,958.4h1v76.0h-1zM1902,958.1h1v76.3h-1zM1903,958.4h1v76.0h-1zM1904,958.8h1v73.1h-1zM1905,960.2h1v71.7h-1zM1906,960.7h1v71.0h-1zM1907,961.5h1v69.6h-1zM1908,962.2h1v68.2h-1zM1909,962.5h1v67.5h-1zM1910,963.7h1v72.9h-1zM1911,963.7h1v72.9h-1zM1912,963.7h1v72.5h-1zM1913,960.7h1v77.5h-1zM1914,960.7h1v76.8h-1zM1915,960.2h1v77.1h-1zM1916,959.4h1v59.8h-1zM1917,958.6h1v60.5h-1zM1918,963.8h1v55.3h-1zM1919,964.4h1v47.3h-1zM1920,965.6h1v44.2h-1zM1921,965.7h1v45.6h-1zM1922,955.6h1v56.4h-1zM1923,955.9h1v57.6h-1zM1924,957.8h1v56.5h-1zM1925,959.7h1v61.2h-1zM1926,961.2h1v60.4h-1zM1927,967.2h1v54.7h-1zM1928,964.6h1v57.6h-1zM1929,964.6h1v52.7h-1zM1930,955.8h1v66.7h-1zM1931,955.8h1v66.7h-1zM1932,948.8h1v73.0h-1zM1933,950.1h1v71.7h-1zM1934,949.8h1v75.9h-1zM1935,949.5h1v75.4h-1zM1936,949.2h1v75.1h-1zM1937,948.5h1v75.8h-1zM1938,945.1h1v69.3h-1zM1939,944.6h1v69.4h-1zM1940,944.6h1v69.9h-1zM1941,936.8h1v76.2h-1zM1942,936.9h1v74.6h-1zM1943,940.9h1v69.1h-1zM1944,941.0h1v67.5h-1zM1945,942.2h1v61.1h-1zM1946,945.0h1v66.6h-1zM1947,945.2h1v66.5h-1zM1948,968.2h1v48.0h-1zM1949,968.2h1v48.0h-1zM1950,960.0h1v66.2h-1zM1951,961.1h1v65.1h-1zM1952,959.1h1v67.1h-1zM1953,960.6h1v66.0h-1zM1954,960.7h1v64.6h-1zM1955,975.7h1v48.3h-1zM1956,975.7h1v47.9h-1zM1957,958.2h1v65.4h-1zM1958,958.2h1v65.4h-1zM1959,959.8h1v63.0h-1zM1960,961.5h1v60.2h-1zM1961,963.3h1v57.5h-1zM1962,965.6h1v50.5h-1zM1963,967.9h1v47.4h-1zM1964,968.3h1v46.4h-1zM1965,928.0h1v83.3h-1zM1966,934.2h1v78.4h-1zM1967,934.6h1v80.1h-1zM1968,935.0h1v88.2h-1zM1969,939.8h1v93.9h-1zM1970,939.8h1v94.1h-1zM1971,971.6h1v62.8h-1zM1972,970.9h1v62.9h-1zM1973,970.2h1v63.6h-1zM1974,973.9h1v59.9h-1zM1975,976.0h1v56.8h-1zM1976,981.5h1v90.6h-1zM1977,981.7h1v90.4h-1zM1978,1019.3h1v61.6h-1zM1979,1013.8h1v67.0h-1zM1980,991.6h1v85.1h-1zM1981,991.6h1v85.1h-1zM1982,996.0h1v79.9h-1zM1983,996.0h1v84.8h-1zM1984,995.9h1v83.8h-1zM1985,997.1h1v80.3h-1zM1986,994.8h1v80.3h-1zM1987,994.4h1v80.1h-1zM1988,994.4h1v74.0h-1zM1989,994.3h1v73.8h-1zM1990,994.5h1v73.2h-1zM1991,994.3h1v72.1h-1zM1992,994.2h1v71.1h-1zM1993,976.9h1v76.5h-1zM1994,972.1h1v83.2h-1zM1995,972.1h1v83.2h-1zM1996,956.4h1v71.4h-1zM1997,953.2h1v74.7h-1zM1998,953.2h1v73.0h-1zM1999,953.2h1v108.5h-1zM2000,953.2h1v108.7h-1zM2001,963.3h1v108.0h-1zM2002,964.6h1v107.9h-1zM2003,964.6h1v107.9h-1zM2004,1027.6h1v84.3h-1zM2005,1025.5h1v86.3h-1zM2006,1023.0h1v88.6h-1zM2007,1026.7h1v84.7h-1zM2008,1022.5h1v36.7h-1zM2009,1022.5h1v36.7h-1zM2010,996.3h1v72.5h-1zM2011,996.3h1v72.8h-1zM2012,996.3h1v75.0h-1zM2013,994.7h1v76.9h-1zM2014,994.8h1v77.6h-1zM2015,994.8h1v77.6h-1zM2016,994.7h1v77.4h-1zM2017,994.7h1v82.3h-1zM2018,986.3h1v90.2h-1zM2019,986.3h1v88.5h-1zM2020,986.3h1v79.1h-1zM2021,988.9h1v75.3h-1zM2022,966.4h1v89.9h-1zM2023,968.0h1v88.5h-1zM2024,969.9h1v95.2h-1zM2025,971.6h1v93.7h-1zM2026,971.6h1v93.9h-1zM2027,1003.5h1v65.0h-1zM2028,1003.5h1v65.0h-1zM2029,978.4h1v55.8h-1zM2030,978.4h1v54.9h-1zM2031,978.4h1v55.3h-1zM2032,979.3h1v53.1h-1zM2033,979.3h1v51.9h-1zM2034,997.3h1v13.3h-1zM2035,998.0h1v12.6h-1zM2036,998.0h1v12.3h-1z"/>
<g stroke="#000" stroke-width="5.0" fill="none" stroke-linecap="butt">
<line x1="289.0" y1="51.0" x2="2227.9" y2="51.0"/>
<line x1="289.0" y1="1610.3" x2="2227.9" y2="1610.3"/>
<line x1="291.5" y1="51.0" x2="291.5" y2="1610.3"/>
<line x1="2225.4" y1="51.0" x2="2225.4" y2="1610.3"/>
<line x1="291.5" y1="1610.3" x2="291.5" y2="1625.6"/>
<line x1="291.5" y1="51.0" x2="291.5" y2="66.3"/>
<line x1="484.9" y1="1610.3" x2="484.9" y2="1640.8"/>
<line x1="484.9" y1="51.0" x2="484.9" y2="81.5"/>
<line x1="678.3" y1="1610.3" x2="678.3" y2="1625.6"/>
<line x1="678.3" y1="51.0" x2="678.3" y2="66.3"/>
<line x1="871.7" y1="1610.3" x2="871.7" y2="1640.8"/>
<line x1="871.7" y1="51.0" x2="871.7" y2="81.5"/>
<line x1="1065.1" y1="1610.3" x2="1065.1" y2="1625.6"/>
<line x1="1065.1" y1="51.0" x2="1065.1" y2="66.3"/>
<line x1="1258.5" y1="1610.3" x2="1258.5" y2="1640.8"/>
<line x1="1258.5" y1="51.0" x2="1258.5" y2="81.5"/>
<line x1="1451.8" y1="1610.3" x2="1451.8" y2="1625.6"/>
<line x1="1451.8" y1="51.0" x2="1451.8" y2="66.3"/>
<line x1="1645.2" y1="1610.3" x2="1645.2" y2="1640.8"/>
<line x1="1645.2" y1="51.0" x2="1645.2" y2="81.5"/>
<line x1="1838.6" y1="1610.3" x2="1838.6" y2="1625.6"/>
<line x1="1838.6" y1="51.0" x2="1838.6" y2="66.3"/>
<line x1="2032.0" y1="1610.3" x2="2032.0" y2="1640.8"/>
<line x1="2032.0" y1="51.0" x2="2032.0" y2="81.5"/>
<line x1="2225.4" y1="1610.3" x2="2225.4" y2="1625.6"/>
<line x1="2225.4" y1="51.0" x2="2225.4" y2="66.3"/>
<line x1="291.5" y1="1610.3" x2="261.0" y2="1610.3"/>
<line x1="291.5" y1="1480.4" x2="276.2" y2="1480.4"/>
<line x1="291.5" y1="1350.4" x2="261.0" y2="1350.4"/>
<line x1="291.5" y1="1220.5" x2="276.2" y2="1220.5"/>
<line x1="291.5" y1="1090.5" x2="261.0" y2="1090.5"/>
<line x1="291.5" y1="960.6" x2="276.2" y2="960.6"/>
<line x1="291.5" y1="830.6" x2="261.0" y2="830.6"/>
<line x1="291.5" y1="700.7" x2="276.2" y2="700.7"/>
<line x1="291.5" y1="570.8" x2="261.0" y2="570.8"/>
<line x1="291.5" y1="440.8" x2="276.2" y2="440.8"/>
<line x1="291.5" y1="310.9" x2="261.0" y2="310.9"/>
<line x1="291.5" y1="180.9" x2="276.2" y2="180.9"/>
<line x1="291.5" y1="51.0" x2="261.0" y2="51.0"/>
<line x1="2225.4" y1="1610.3" x2="2240.7" y2="1610.3"/>
<line x1="2225.4" y1="1387.5" x2="2255.9" y2="1387.5"/>
<line x1="2225.4" y1="1164.8" x2="2240.7" y2="1164.8"/>
<line x1="2225.4" y1="942.0" x2="2255.9" y2="942.0"/>
<line x1="2225.4" y1="719.3" x2="2240.7" y2="719.3"/>
<line x1="2225.4" y1="496.5" x2="2255.9" y2="496.5"/>
<line x1="2225.4" y1="273.8" x2="2240.7" y2="273.8"/>
<line x1="2225.4" y1="51.0" x2="2255.9" y2="51.0"/>
</g>
<text class="tk" x="240.5" y="1635.9" text-anchor="end">40</text>
<text class="tk" x="240.5" y="1376.0" text-anchor="end">50</text>
<text class="tk" x="240.5" y="1116.1" text-anchor="end">60</text>
<text class="tk" x="240.5" y="856.2" text-anchor="end">70</text>
<text class="tk" x="240.5" y="596.4" text-anchor="end">80</text>
<text class="tk" x="240.5" y="336.5" text-anchor="end">90</text>
<text class="tk" x="240.5" y="76.6" text-anchor="end">100</text>
<text class="tk" x="2277" y="1412.5" text-anchor="start">0</text>
<text class="tk" x="2277" y="967.0" text-anchor="start">10</text>
<text class="tk" x="2277" y="521.5" text-anchor="start">20</text>
<text class="tk" x="2277" y="76.0" text-anchor="start">30</text>
<text class="tk" x="485.5" y="1716.8" text-anchor="middle">0</text>
<text class="tk" x="872.3" y="1716.8" text-anchor="middle">2, 000</text>
<text class="tk" x="1259.0" y="1716.8" text-anchor="middle">4, 000</text>
<text class="tk" x="1645.8" y="1716.8" text-anchor="middle">6, 000</text>
<text class="tk" x="2032.6" y="1716.8" text-anchor="middle">8, 000</text>
<text class="ti" x="1258.4" y="1831.6" text-anchor="middle" style="letter-spacing:1.07px">Time (t/s)</text>
<text class="ti" transform="translate(86,829.5) rotate(-90)" text-anchor="middle"><tspan style="letter-spacing:0.95px">Temperature </tspan><tspan style="letter-spacing:0.02px">(T/°C)</tspan></text>
<text class="ti" transform="translate(2435,820.3) rotate(-90)" text-anchor="middle" style="letter-spacing:0.85px">Viscosity (η / mPas)</text>
<rect x="361.6" y="103.7" width="460.8" height="154.6" fill="#fff" stroke="#000" stroke-width="2.6"/>
<line x1="367.8" y1="144.2" x2="500" y2="144.2" stroke="#404040" stroke-width="1.6"/>
<rect x="429.3" y="138.2" width="12.6" height="9.6" fill="#8000ff"/>
<line x1="367.8" y1="216.6" x2="502.7" y2="216.6" stroke="#ef4141" stroke-width="5.2"/>
<text class="lg" x="515.6" y="163" style="letter-spacing:1.12px">Temperature</text>
<text class="lg" x="515.8" y="233.8" style="letter-spacing:1.36px">Viscosity</text>
</svg></body></html>
